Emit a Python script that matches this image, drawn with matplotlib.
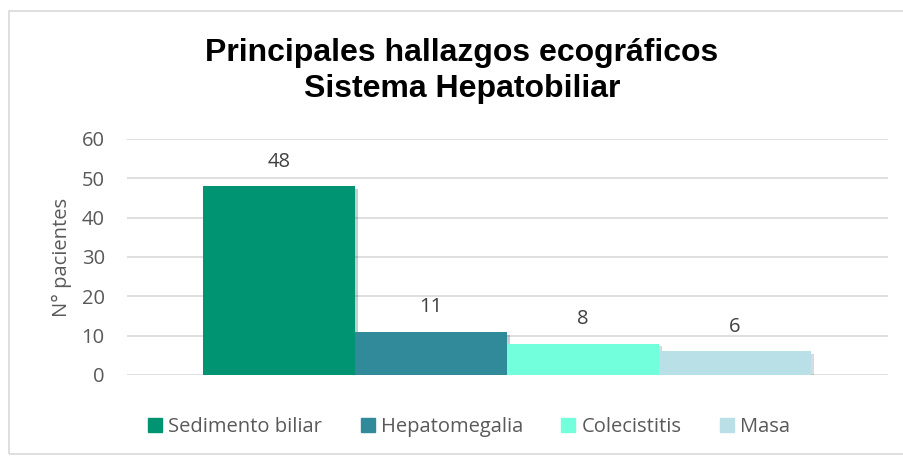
import matplotlib
matplotlib.use('Agg')
import matplotlib.pyplot as plt
import matplotlib.patheffects as pe
from matplotlib.patches import Rectangle
import numpy as np

categories = ['Sedimento biliar', 'Hepatomegalia', 'Colecistitis', 'Masa']
values = [48, 11, 8, 6]
colors = ['#009473', '#318A9A', '#72FFDC', '#B8E0E6']

plt.rcParams['font.family'] = ['Open Sans', 'DejaVu Sans']

fig = plt.figure(figsize=(9.04, 4.58), dpi=100)
ax = fig.add_axes([127/904, 1-375/458, 761/904, 236/458])

# outer chart border
fig.patches.append(Rectangle((9/904, 4/458), 1.0, 443/458, transform=fig.transFigure,
                             fill=False, ec='#d9d9d9', lw=1.2))

w = 152
x0 = 76 + w/2
xs = x0 + w*np.arange(len(values))
bars = ax.bar(xs, values, width=w, color=colors, zorder=3)
for b, v in zip(bars, values):
    b.set_path_effects([pe.SimplePatchShadow(offset=(2, -2), alpha=0.25, rho=0.5), pe.Normal()])
    ax.text(b.get_x() + w/2, v + 6.2, str(v), ha='center', va='center',
            fontsize=14.5, color='#404040')

ax.set_xlim(0, 761)
ax.set_ylim(0, 60)
ax.set_yticks(range(0, 61, 10))
ax.set_xticks([])
ax.tick_params(axis='y', length=0, labelsize=14.5, labelcolor='#595959', pad=16)
ax.grid(axis='y', color='#d9d9d9', lw=1.2, zorder=0)
for s in ax.spines.values():
    s.set_visible(False)
ax.set_ylabel('N° pacientes', fontsize=14.5, color='#595959', labelpad=7)

fig.text(462/904, 1-71/458, 'Principales hallazgos ecográficos\nSistema Hepatobiliar',
         ha='center', va='center', fontsize=23, fontweight='bold',
         family='Liberation Sans', linespacing=1.22)

handles = [Rectangle((0, 0), 1, 1, color=c) for c in colors]
fig.legend(handles=handles, labels=categories, loc='center', bbox_to_anchor=(469/904, 1-427/458),
           ncol=4, frameon=False, fontsize=14.5, labelcolor='#595959',
           handlelength=0.7, handleheight=0.7, handletextpad=0.3, columnspacing=1.9)

fig.savefig('out.png', dpi=100)
